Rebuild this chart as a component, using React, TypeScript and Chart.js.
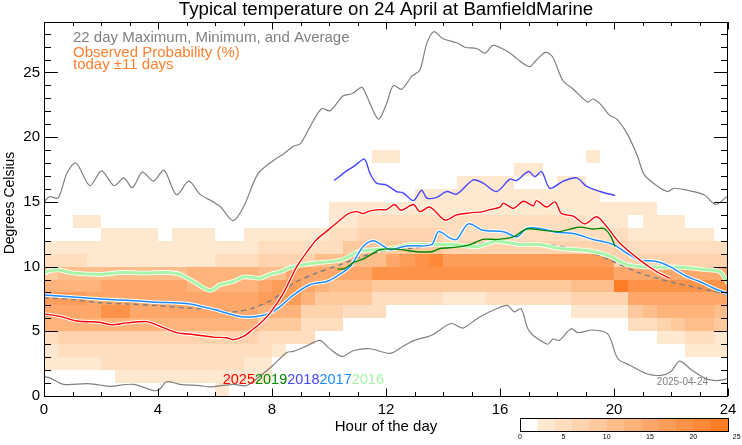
import React, { useEffect, useRef } from 'react';
import { Chart, registerables } from 'chart.js';

Chart.register(...registerables);

const TITLE = 'Typical temperature on 24 April at BamfieldMarine';
const LEGEND_GRAY = '22 day Maximum, Minimum, and Average';
const LEGEND_ORANGE_1 = 'Observed Probability (%)';
const LEGEND_ORANGE_2 = 'today ±11 days';
const X_TITLE = 'Hour of the day';
const Y_TITLE = 'Degrees Celsius';
const DATE_STAMP = '2025-04-24';

const xTickValues = [0, 4, 8, 12, 16, 20, 24];
const yTickValues = [0, 5, 10, 15, 20, 25];
const colorbarTicks = [0, 5, 10, 15, 20, 25];

// 22-day maximum
const maxHours = [0, 0.2, 0.5, 0.8, 1.12, 1.61, 2.02, 2.46, 2.8, 3.1, 3.45, 3.84, 4.21, 4.65, 5.08, 5.47, 5.94, 6.2, 6.64, 7.02, 7.5, 8.05, 8.4, 8.75, 9.0, 9.33, 9.74, 10.04, 10.5, 10.8, 11.15, 11.3, 11.73, 12.02, 12.26, 12.55, 12.9, 13.19, 13.43, 13.68, 14.0, 14.48, 14.77, 15.18, 15.47, 15.77, 16.35, 16.6, 17.03, 17.27, 17.6, 17.85, 18.2, 18.6, 19.08, 19.25, 19.55, 19.84, 20.1, 20.48, 20.83, 21.06, 21.53, 21.88, 22.1, 22.57, 23.16, 23.57, 23.93, 24];
const maxTemps = [15.0, 15.4, 15.3, 17.2, 18.0, 16.25, 17.4, 16.25, 16.85, 16.1, 17.3, 16.6, 17.45, 15.55, 16.6, 15.6, 15.0, 14.6, 13.55, 14.7, 17.15, 18.2, 18.7, 19.3, 19.5, 20.8, 22.2, 22.05, 23.2, 23.35, 23.85, 23.3, 21.4, 22.6, 24.0, 23.7, 24.7, 25.2, 27.25, 28.15, 27.6, 27.3, 26.95, 26.85, 26.5, 27.1, 26.5, 26.05, 25.45, 25.95, 26.55, 26.2, 24.4, 23.65, 22.7, 22.95, 22.5, 21.7, 21.4, 20.2, 18.5, 17.1, 16.2, 15.8, 16.05, 15.9, 15.55, 14.8, 15.35, 15.4];

// 22-day minimum
const minHours = [0, 0.2, 0.68, 1.5, 1.96, 2.3, 3.13, 3.84, 4.05, 4.3, 4.77, 5.47, 5.82, 6.64, 7.1, 7.58, 8.0, 8.51, 8.75, 9.2, 9.68, 10.0, 10.45, 10.85, 11.44, 12.15, 12.64, 13.0, 13.6, 14.28, 14.7, 15.14, 15.45, 15.84, 16.25, 16.5, 16.74, 17.03, 17.67, 17.85, 18.08, 18.49, 18.73, 19.25, 19.78, 20.13, 20.54, 21.18, 21.65, 22.0, 22.3, 22.7, 23.16, 23.5, 23.87, 24];
const minTemps = [1.5, 1.4, 0.9, 0.95, 0.85, 0.75, 0.9, 0.42, 0.5, 1.1, 0.9, 0.8, 0.7, 0.9, 0.8, 1.55, 2.3, 3.35, 3.45, 3.85, 4.3, 3.7, 3.05, 3.5, 3.65, 3.3, 3.9, 4.3, 4.7, 5.6, 5.25, 5.9, 6.3, 6.7, 7.0, 6.5, 6.75, 5.0, 4.0, 4.4, 4.3, 5.2, 4.9, 5.1, 4.8, 2.9, 2.4, 1.7, 1.6, 1.9, 2.7, 2.05, 1.4, 1.2, 1.27, 1.4];

// 22-day average (dashed)
const avgHours = [0, 1.03, 1.96, 3.0, 3.95, 5.0, 6.0, 6.64, 7.34, 8.05, 8.75, 9.57, 10.4, 11.2, 12.02, 12.84, 13.66, 14.48, 15.4, 16.12, 16.82, 17.64, 19.04, 19.86, 20.9, 22.2, 23.48, 24];
const avgTemps = [7.6, 7.45, 7.2, 7.1, 7.0, 6.8, 6.7, 6.5, 6.8, 7.5, 8.7, 9.5, 10.15, 10.8, 11.25, 11.4, 11.6, 11.6, 11.8, 11.95, 11.8, 11.7, 11.2, 10.5, 9.5, 8.7, 8.1, 7.8];

// 2016
const y2016Hours = [0, 0.45, 1.03, 1.96, 2.78, 3.48, 4.3, 4.77, 5.24, 5.82, 6.18, 6.64, 7.0, 7.58, 7.93, 8.28, 8.75, 9.57, 10.4, 11.09, 11.55, 12.14, 12.84, 13.54, 14.36, 15.18, 15.88, 16.7, 17.4, 18.1, 19.16, 19.86, 20.44, 21.26, 22.3, 23.25, 23.72, 24];
const y2016Temps = [9.55, 9.75, 9.5, 9.4, 9.55, 9.5, 9.55, 9.4, 8.85, 8.15, 8.6, 8.85, 9.2, 9.1, 9.4, 9.6, 10.0, 10.3, 10.5, 11.2, 11.3, 11.4, 11.7, 11.7, 11.7, 11.55, 11.95, 11.7, 11.7, 11.4, 11.2, 10.8, 10.15, 9.95, 9.95, 9.75, 9.6, 8.7];

// 2017
const y2017Hours = [0, 1.03, 1.96, 2.9, 3.95, 5.0, 5.94, 6.88, 7.46, 7.93, 8.28, 8.75, 9.33, 9.92, 10.27, 10.74, 11.2, 11.55, 11.9, 12.14, 12.73, 13.6, 13.84, 14.25, 14.48, 14.89, 15.41, 16.12, 16.6, 16.94, 17.4, 17.99, 18.57, 19.27, 19.98, 20.44, 20.91, 21.5, 21.96, 22.54, 23.0, 23.48, 24];
const y2017Temps = [7.8, 7.65, 7.5, 7.4, 7.25, 7.15, 6.7, 6.15, 6.15, 6.4, 6.9, 7.8, 8.6, 8.85, 9.25, 10.0, 11.55, 12.0, 11.6, 11.3, 11.6, 11.7, 12.7, 12.2, 12.1, 13.3, 12.8, 12.7, 12.3, 12.95, 12.95, 12.65, 12.55, 12.1, 11.7, 11.05, 10.5, 10.4, 10.0, 9.25, 8.85, 8.35, 7.9];

// 2018
const y2018Hours = [10.18, 10.62, 10.91, 11.24, 11.44, 11.67, 12.02, 12.37, 12.6, 12.96, 13.25, 13.43, 13.78, 14.13, 14.48, 15.06, 15.41, 15.88, 16.35, 16.58, 17.0, 17.23, 17.46, 17.75, 18.22, 18.69, 19.04, 19.51, 20.04];
const y2018Temps = [16.65, 17.4, 17.8, 18.3, 17.2, 16.45, 16.3, 15.8, 15.7, 15.1, 15.9, 15.3, 15.35, 15.8, 15.6, 16.7, 16.45, 15.8, 16.75, 16.65, 17.35, 16.95, 17.35, 16.05, 16.6, 16.85, 16.2, 15.8, 15.5];

// 2019
const y2019Hours = [10.3, 10.55, 10.85, 11.26, 11.79, 12.37, 13.07, 13.6, 13.9, 14.48, 14.95, 15.41, 15.88, 16.47, 16.94, 17.52, 18.1, 18.46, 18.81, 19.27, 19.63, 19.86, 20.04];
const y2019Temps = [9.8, 9.85, 10.3, 10.65, 11.3, 11.35, 11.15, 11.15, 11.4, 11.5, 11.7, 12.1, 12.1, 12.3, 12.9, 12.8, 12.7, 12.9, 13.05, 12.9, 12.95, 12.45, 11.55];

// 2025
const y2025Hours = [0, 0.56, 1.15, 1.96, 2.37, 2.9, 3.6, 3.95, 4.66, 5.24, 5.94, 6.41, 6.64, 7.0, 7.3, 7.58, 7.93, 8.4, 8.87, 9.33, 9.57, 10.04, 10.39, 10.68, 10.97, 11.2, 11.44, 11.79, 12.02, 12.3, 12.53, 12.96, 13.19, 13.54, 14.07, 14.48, 14.95, 15.41, 15.64, 16.0, 16.12, 16.47, 16.82, 17.17, 17.28, 17.64, 17.93, 18.16, 18.57, 18.98, 19.39, 19.74, 20.21, 20.91, 21.5, 21.96];
const y2025Temps = [6.35, 6.15, 5.8, 5.7, 5.5, 5.65, 5.75, 5.5, 4.9, 4.75, 4.55, 4.5, 4.35, 4.6, 5.1, 5.6, 6.4, 7.95, 10.0, 11.45, 12.1, 12.95, 13.6, 14.1, 14.25, 14.1, 14.3, 14.4, 14.4, 14.8, 14.35, 14.8, 14.25, 14.6, 13.6, 14.0, 14.15, 14.25, 14.4, 14.6, 14.9, 14.5, 15.05, 14.7, 15.1, 14.6, 15.0, 14.1, 13.9, 13.3, 13.85, 13.1, 11.8, 10.5, 9.6, 9.1];

// Observed probability in bins of 2 % (hex digit 0..b). One string per 1 °C row,
// starting at 0–1 °C; one character per half-hour column, grouped by 3 hours.
const probRows = [
  '000000 000000 100000 000000 000000 000000 000000 000000',
  '000001 111111 111100 000000 000000 000000 000000 000000',
  '111122 222222 221100 000000 000000 000000 000000 000000',
  '122222 222222 222210 000000 000000 000000 000000 000111',
  '233333 333333 333222 200000 000000 000000 000000 011221',
  '666666 666666 666444 222000 000000 000000 000002 234554',
  '777799 777777 777666 333222 000000 000000 011114 566665',
  '888777 777777 777888 644442 222211 122222 233337 777777',
  '666677 777766 666788 765554 444444 444444 4555b9 999999',
  '455555 555566 666557 777779 999999 999999 999977 777777',
  '222111 111111 222333 355555 789a88 888888 888833 333333',
  '111111 111111 111222 222444 444433 333333 333332 222222',
  '000011 110111 001111 112233 333322 222222 222221 111110',
  '001100 000000 000000 001122 222222 222222 221110 111000',
  '000000 000000 000000 001111 111111 111111 111111 100000',
  '000000 000000 000000 000000 001111 111111 111000 000000',
  '000000 000000 000000 000000 000001 111000 110000 000000',
  '000000 000000 000000 000000 000000 000110 000000 000000',
  '000000 000000 000000 000001 100000 000000 001000 000000',
];

const yearLabels = ['2025', '2019', '2018', '2017', '2016'];
const yearColors = ['#ff0000', '#008800', '#4646ff', '#1e8cff', '#a8f5a8'];

const FONT = "'Liberation Sans', Arial, Helvetica, sans-serif";

function levelColor(l: number): string {
  const t = (l - 1) / 10;
  const r = Math.round(254 + (253 - 254) * t);
  const g = Math.round(233 + (125 - 233) * t);
  const b = Math.round(208 + (38 - 208) * t);
  return `rgb(${r},${g},${b})`;
}

function pts(hours: number[], temps: number[]) {
  return hours.map((h, i) => ({ x: h, y: temps[i] }));
}

const decorPlugin = {
  id: 'decor',
  beforeDatasetsDraw(chart: any) {
    const { ctx, chartArea: a, scales } = chart;
    const x = scales.x;
    const y = scales.y;
    ctx.save();
    ctx.beginPath();
    ctx.rect(a.left, a.top, a.right - a.left, a.bottom - a.top);
    ctx.clip();
    probRows.forEach((rowText, r) => {
      const row = rowText.replace(/\s+/g, '');
      for (let c = 0; c < row.length; c++) {
        const lv = parseInt(row[c], 16);
        if (!lv) continue;
        const x0 = Math.round(x.getPixelForValue(c * 0.5));
        const x1 = Math.round(x.getPixelForValue((c + 1) * 0.5));
        const y0 = Math.round(y.getPixelForValue(r + 1));
        const y1 = Math.round(y.getPixelForValue(r));
        ctx.fillStyle = levelColor(lv);
        ctx.fillRect(x0, y0, x1 - x0, y1 - y0);
      }
    });
    ctx.restore();
  },
  afterDraw(chart: any) {
    const { ctx, chartArea: a, scales } = chart;
    const x = scales.x;
    const y = scales.y;
    ctx.save();
    // frame
    ctx.strokeStyle = '#000';
    ctx.lineWidth = 1;
    ctx.strokeRect(a.left + 0.5, a.top + 0.5, a.right - a.left - 1, a.bottom - a.top);
    // inward ticks on all four sides
    ctx.beginPath();
    for (let h = 0; h <= 24; h++) {
      const px = Math.round(x.getPixelForValue(h)) + 0.5;
      const len = h % 4 === 0 ? 7.5 : 4;
      ctx.moveTo(px, a.bottom);
      ctx.lineTo(px, a.bottom - len);
      ctx.moveTo(px, a.top);
      ctx.lineTo(px, a.top + len);
    }
    for (let v = 0; v <= 28; v++) {
      const py = Math.round(y.getPixelForValue(v)) + 0.5;
      const len = v % 5 === 0 ? 14 : 7;
      ctx.moveTo(a.left, py);
      ctx.lineTo(a.left + len, py);
      ctx.moveTo(a.right, py);
      ctx.lineTo(a.right - len, py);
    }
    ctx.stroke();

    // title
    ctx.fillStyle = '#000';
    ctx.font = `18.7px ${FONT}`;
    ctx.textAlign = 'center';
    ctx.textBaseline = 'alphabetic';
    ctx.fillText(TITLE, (a.left + a.right) / 2, 15);

    // legend text
    ctx.textAlign = 'left';
    ctx.font = `15px ${FONT}`;
    ctx.fillStyle = '#808080';
    ctx.fillText(LEGEND_GRAY, a.left + 29, 41.5);
    ctx.fillStyle = '#ff8030';
    ctx.fillText(LEGEND_ORANGE_1, a.left + 29, 57);
    ctx.fillText(LEGEND_ORANGE_2, a.left + 29, 69);

    // axis titles
    ctx.fillStyle = '#000';
    ctx.font = `15px ${FONT}`;
    ctx.textAlign = 'center';
    ctx.fillText(X_TITLE, (a.left + a.right) / 2, 431);
    ctx.save();
    ctx.translate(14, 203);
    ctx.rotate(-Math.PI / 2);
    ctx.font = `14px ${FONT}`;
    ctx.fillText(Y_TITLE, 0, 0);
    ctx.restore();

    // year labels
    ctx.font = `14.5px ${FONT}`;
    ctx.textAlign = 'left';
    let lx = x.getPixelForValue(6.27);
    const ly = y.getPixelForValue(0.94);
    yearLabels.forEach((t, i) => {
      ctx.fillStyle = yearColors[i];
      ctx.fillText(t, lx, ly);
      lx += ctx.measureText(t).width;
    });

    // date stamp
    ctx.font = `10px ${FONT}`;
    ctx.fillStyle = '#808080';
    ctx.textAlign = 'right';
    ctx.fillText(DATE_STAMP, a.right - 20, 385);

    // colorbar
    const cbW = 208;
    const cbX = a.right - cbW;
    const cbY = 418;
    const cbH = 13;
    const perUnit = cbW / 24;
    for (let l = 0; l < 12; l++) {
      ctx.fillStyle = l === 0 ? '#ffffff' : levelColor(l);
      ctx.fillRect(cbX + l * 2 * perUnit, cbY, 2 * perUnit + 0.5, cbH);
    }
    ctx.strokeStyle = '#000';
    ctx.lineWidth = 1;
    ctx.strokeRect(cbX + 0.5, cbY + 0.5, cbW, cbH);
    ctx.fillStyle = '#000';
    ctx.font = `7px ${FONT}`;
    ctx.textAlign = 'center';
    colorbarTicks.forEach((v) => {
      ctx.fillText(String(v), cbX + v * perUnit, 439);
    });
    ctx.restore();
  },
};

export default function App() {
  const ref = useRef<HTMLCanvasElement>(null);
  useEffect(() => {
    if (!ref.current) return;
    const line = (data: any, color: string, width: number, order: number, extra: any = {}) => ({
      type: 'line',
      data,
      borderColor: color,
      borderWidth: width,
      pointRadius: 0,
      fill: false,
      tension: 0.3,
      order,
      ...extra,
    });
    const chart = new Chart(ref.current, {
      type: 'line',
      data: {
        datasets: [
          line(pts(y2025Hours, y2025Temps), '#ff0000', 1.4, 1),
          line(pts(y2025Hours, y2025Temps), '#ffffff', 3.4, 2),
          line(pts(y2019Hours, y2019Temps), '#008800', 1.4, 3),
          line(pts(y2018Hours, y2018Temps), '#4646ff', 1.4, 4),
          line(pts(y2017Hours, y2017Temps), '#1e8cff', 1.5, 5),
          line(pts(y2017Hours, y2017Temps), '#ffffff', 3.5, 6),
          line(pts(y2016Hours, y2016Temps), '#a8f5a8', 3, 7),
          line(pts(y2016Hours, y2016Temps), '#ffffff', 4.6, 8),
          line(pts(avgHours, avgTemps), '#808080', 1.5, 9, { borderDash: [5, 4] }),
          line(pts(maxHours, maxTemps), '#808080', 1.2, 10),
          line(pts(minHours, minTemps), '#808080', 1.2, 11),
        ] as any,
      },
      options: {
        responsive: false,
        animation: false,
        events: [],
        layout: { padding: { top: 22, right: 14, left: 0, bottom: 0 } },
        plugins: { legend: { display: false }, tooltip: { enabled: false }, title: { display: false } },
        scales: {
          x: {
            type: 'linear',
            min: 0,
            max: 24,
            afterBuildTicks: (s: any) => { s.ticks = xTickValues.map((v) => ({ value: v })); },
            afterFit: (s: any) => { s.height = 49; },
            ticks: { font: { size: 15, family: FONT }, color: '#000', padding: 5, maxRotation: 0, autoSkip: false },
            grid: { display: false, drawTicks: false },
            border: { display: false },
          },
          y: {
            type: 'linear',
            min: 0,
            max: 28.9,
            afterBuildTicks: (s: any) => { s.ticks = yTickValues.map((v) => ({ value: v })); },
            afterFit: (s: any) => { s.width = 44; },
            ticks: { font: { size: 15, family: FONT }, color: '#000', padding: 4, autoSkip: false },
            grid: { display: false, drawTicks: false },
            border: { display: false },
          },
        },
      },
      plugins: [decorPlugin],
    } as any);
    return () => chart.destroy();
  }, []);
  return (
    <div style={{ position: 'absolute', left: 0, top: 0, width: 742, height: 445, background: '#fff' }}>
      <canvas ref={ref} width={742} height={445} />
    </div>
  );
}
